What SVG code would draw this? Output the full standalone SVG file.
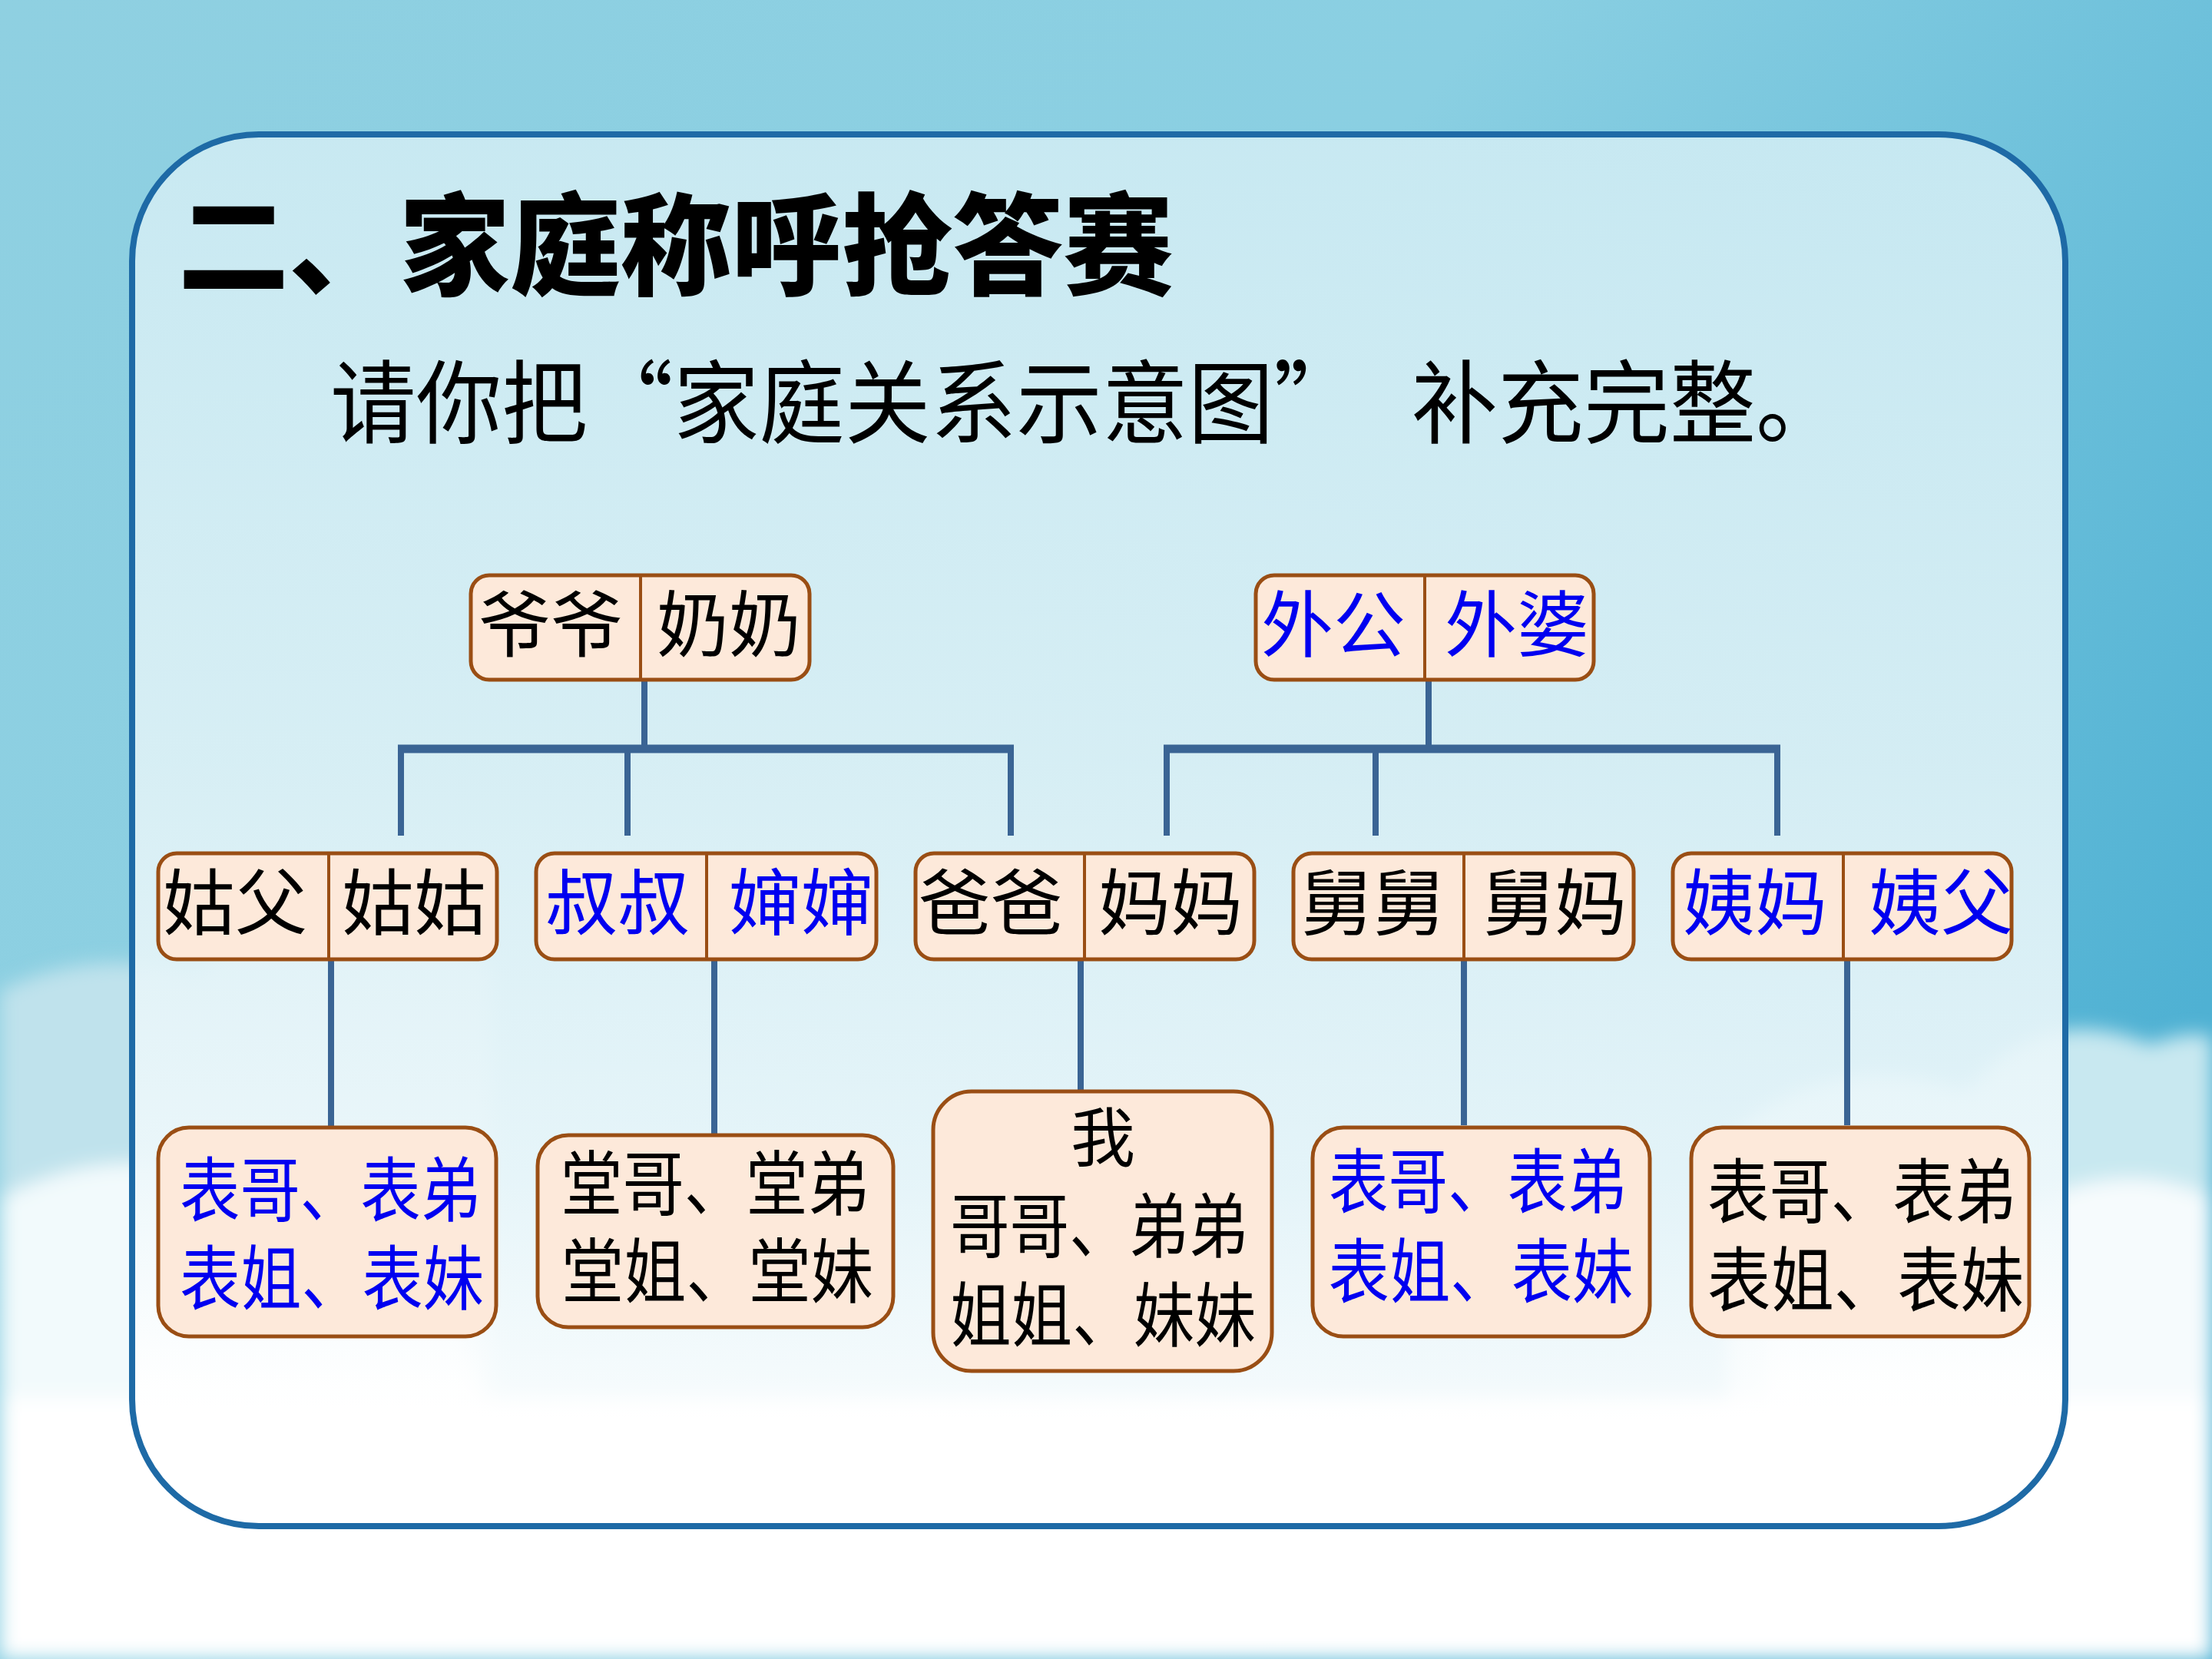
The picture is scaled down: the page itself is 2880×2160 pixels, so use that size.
<svg xmlns="http://www.w3.org/2000/svg" width="2880" height="2160" viewBox="0 0 2880 2160">
  <defs>
    <linearGradient id="sky" x1="0" y1="0" x2="1" y2="0.6">
      <stop offset="0" stop-color="#8FD0E1"/>
      <stop offset="0.5" stop-color="#8ACFE2"/>
      <stop offset="1" stop-color="#4FB1D3"/>
    </linearGradient>
    <linearGradient id="panelFill" x1="0" y1="0" x2="0" y2="1">
      <stop offset="0" stop-color="#CDEBF3"/>
      <stop offset="0.45" stop-color="#DDF1F6"/>
      <stop offset="0.75" stop-color="#EEF8FB"/>
      <stop offset="0.9" stop-color="#FFFFFF"/>
      <stop offset="1" stop-color="#FFFFFF"/>
    </linearGradient>
    <filter id="soft" x="-20%" y="-20%" width="140%" height="140%">
      <feGaussianBlur stdDeviation="12"/>
    </filter>
    <style>
      .panel { fill: url(#panelFill); stroke: #1E6AA6; stroke-width: 8; }
      .box { fill: #FDE9DA; stroke: #9A4E14; stroke-width: 5; }
      .div { stroke: #9A4E14; stroke-width: 4; }
      .conn line { stroke: #3A6494; stroke-linecap: butt; }
      .v { stroke-width: 8; }
      .h { stroke-width: 11; }
      .t { font-family: "Noto Sans CJK SC", "Noto Sans CJK TC", sans-serif; text-anchor: middle; }
      .n { font-size: 94px; }
      .m { font-size: 92px; }
      .blk { fill: #000000; }
      .blu { fill: #0000F0; }
    </style>
  </defs>

  <!-- background sky -->
  <rect x="0" y="0" width="2880" height="2160" fill="url(#sky)"/>
  <!-- clouds -->
  <g id="clouds" filter="url(#soft)">
    <path d="M0 1290 Q120 1230 260 1270 Q330 1170 470 1230 Q560 1180 640 1260 L640 2160 L0 2160 Z" fill="#BFE2EC"/>
    <path d="M2250 1480 Q2380 1360 2560 1420 Q2660 1300 2800 1360 Q2850 1340 2880 1350 L2880 2160 L2250 2160 Z" fill="#C8E8F0"/>
    <path d="M0 1560 Q150 1480 300 1540 Q420 1460 560 1530 L700 2160 L0 2160 Z" fill="#F2FAFC"/>
    <path d="M2300 1620 Q2450 1520 2620 1580 Q2760 1500 2880 1560 L2880 2160 L2300 2160 Z" fill="#F6FBFD"/>
    <rect x="0" y="1820" width="2880" height="340" fill="#FFFFFF"/>
  </g>

  <!-- panel -->
  <rect id="panel" class="panel" x="172" y="175" width="2517" height="1812" rx="165" ry="165" fill-opacity="0.92"/>

  <!-- title -->
  <text id="title" x="232" y="373" font-family="Noto Sans CJK SC, sans-serif" font-size="144" font-weight="900" fill="#000" textLength="1296" lengthAdjust="spacingAndGlyphs">二、家庭称呼抢答赛</text>
  <g id="subtitle" font-family="Noto Sans CJK SC, sans-serif" font-size="118" fill="#000">
    <text x="430" y="568" textLength="1340" lengthAdjust="spacingAndGlyphs">请你把“家庭关系示意图”</text>
    <text x="1838" y="568" textLength="560" lengthAdjust="spacingAndGlyphs">补充完整。</text>
  </g>

  <!-- connectors -->
  <g id="connectors" class="conn">
    <line class="v" x1="839" y1="885" x2="839" y2="975"/>
    <line class="h" x1="518" y1="975" x2="1320" y2="975"/>
    <line class="v" x1="522" y1="970" x2="522" y2="1088"/>
    <line class="v" x1="817" y1="970" x2="817" y2="1088"/>
    <line class="v" x1="1316" y1="970" x2="1316" y2="1088"/>

    <line class="v" x1="1860" y1="885" x2="1860" y2="975"/>
    <line class="h" x1="1515" y1="975" x2="2318" y2="975"/>
    <line class="v" x1="1519" y1="970" x2="1519" y2="1088"/>
    <line class="v" x1="1791" y1="970" x2="1791" y2="1088"/>
    <line class="v" x1="2314" y1="970" x2="2314" y2="1088"/>

    <line class="v" x1="431" y1="1249" x2="431" y2="1466"/>
    <line class="v" x1="930" y1="1249" x2="930" y2="1476"/>
    <line class="v" x1="1407" y1="1249" x2="1407" y2="1419"/>
    <line class="v" x1="1906" y1="1249" x2="1906" y2="1465"/>
    <line class="v" x1="2405" y1="1249" x2="2405" y2="1465"/>
  </g>

  <!-- row 1 -->
  <g id="node-yeye-nainai">
    <rect class="box" x="613" y="749" width="441" height="136" rx="24"/>
    <line class="div" x1="834" y1="751" x2="834" y2="883"/>
    <text class="t n blk" x="717" y="848">爷爷</text>
    <text class="t n blk" x="949" y="848">奶奶</text>
  </g>
  <g id="node-waigong-waipo">
    <rect class="box" x="1635" y="749" width="440" height="136" rx="24"/>
    <line class="div" x1="1855" y1="751" x2="1855" y2="883"/>
    <text class="t n blu" x="1736" y="848">外公</text>
    <text class="t n blu" x="1975" y="848">外婆</text>
  </g>

  <!-- row 2 -->
  <g id="node-gufu-gugu">
    <rect class="box" x="206" y="1111" width="441" height="138" rx="24"/>
    <line class="div" x1="428" y1="1113" x2="428" y2="1247"/>
    <text class="t n blk" x="306" y="1210">姑父</text>
    <text class="t n blk" x="539" y="1210">姑姑</text>
  </g>
  <g id="node-shushu-shenshen">
    <rect class="box" x="698" y="1111" width="443" height="138" rx="24"/>
    <line class="div" x1="920" y1="1113" x2="920" y2="1247"/>
    <text class="t n blu" x="804" y="1210">叔叔</text>
    <text class="t n blu" x="1043" y="1210">婶婶</text>
  </g>
  <g id="node-baba-mama">
    <rect class="box" x="1192" y="1111" width="441" height="138" rx="24"/>
    <line class="div" x1="1412" y1="1113" x2="1412" y2="1247"/>
    <text class="t n blk" x="1290" y="1210">爸爸</text>
    <text class="t n blk" x="1524" y="1210">妈妈</text>
  </g>
  <g id="node-jiujiu-jiuma">
    <rect class="box" x="1684" y="1111" width="443" height="138" rx="24"/>
    <line class="div" x1="1906" y1="1113" x2="1906" y2="1247"/>
    <text class="t n blk" x="1787" y="1210">舅舅</text>
    <text class="t n blk" x="2024" y="1210">舅妈</text>
  </g>
  <g id="node-yima-yifu">
    <rect class="box" x="2178" y="1111" width="441" height="138" rx="24"/>
    <line class="div" x1="2400" y1="1113" x2="2400" y2="1247"/>
    <text class="t n blu" x="2285" y="1210">姨妈</text>
    <text class="t n blu" x="2527" y="1210">姨父</text>
  </g>

  <!-- row 3 -->
  <g id="node-biao-1">
    <rect class="box" x="206" y="1468" width="440" height="272" rx="40"/>
    <text class="t m blu" x="430" y="1583" textLength="392" lengthAdjust="spacingAndGlyphs">表哥、表弟</text>
    <text class="t m blu" x="432" y="1698" textLength="396" lengthAdjust="spacingAndGlyphs">表姐、表妹</text>
  </g>
  <g id="node-tang">
    <rect class="box" x="700" y="1478" width="463" height="250" rx="40"/>
    <text class="t m blk" x="931" y="1575" textLength="402" lengthAdjust="spacingAndGlyphs">堂哥、堂弟</text>
    <text class="t m blk" x="934" y="1689" textLength="406" lengthAdjust="spacingAndGlyphs">堂姐、堂妹</text>
  </g>
  <g id="node-wo">
    <rect class="box" x="1215" y="1421" width="441" height="364" rx="50"/>
    <text class="t blk" x="1436" y="1512" font-size="84">我</text>
    <text class="t m blk" x="1431" y="1630" textLength="388" lengthAdjust="spacingAndGlyphs">哥哥、弟弟</text>
    <text class="t m blk" x="1436" y="1746" textLength="398" lengthAdjust="spacingAndGlyphs">姐姐、妹妹</text>
  </g>
  <g id="node-biao-2">
    <rect class="box" x="1709" y="1468" width="439" height="272" rx="40"/>
    <text class="t m blu" x="1924" y="1572" textLength="388" lengthAdjust="spacingAndGlyphs">表哥、表弟</text>
    <text class="t m blu" x="1928" y="1689" textLength="397" lengthAdjust="spacingAndGlyphs">表姐、表妹</text>
  </g>
  <g id="node-biao-3">
    <rect class="box" x="2202" y="1468" width="440" height="272" rx="40"/>
    <text class="t m blk" x="2424" y="1585" textLength="402" lengthAdjust="spacingAndGlyphs">表哥、表弟</text>
    <text class="t m blk" x="2429" y="1700" textLength="412" lengthAdjust="spacingAndGlyphs">表姐、表妹</text>
  </g>
</svg>
